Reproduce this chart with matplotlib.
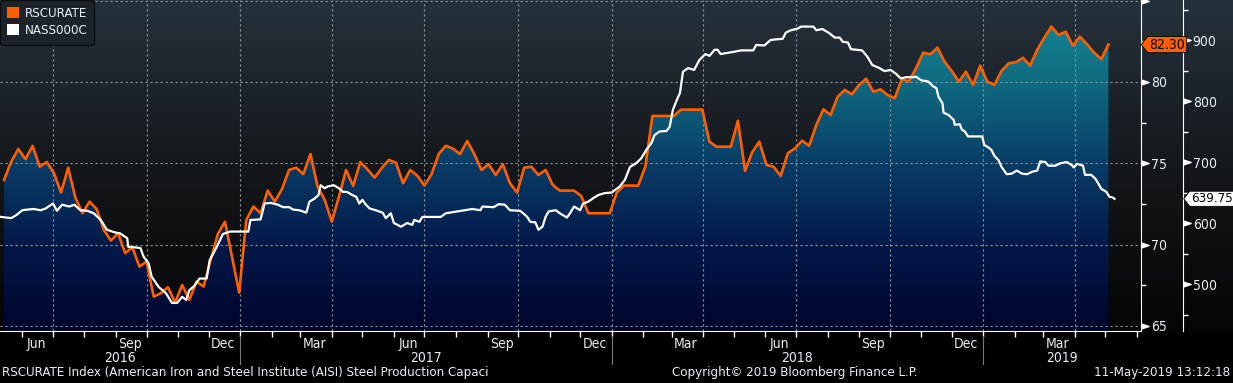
import numpy as np
import pandas as pd
import matplotlib
matplotlib.use("Agg")
import matplotlib.pyplot as plt
from matplotlib import font_manager
from matplotlib.colors import LinearSegmentedColormap
from matplotlib.patches import Patch
from matplotlib.path import Path
from matplotlib.transforms import blended_transform_factory

# RSCURATE: weekly AISI capacity utilisation (%), Christmas week 2016 missing
rscurate_dates = pd.date_range("2016-05-14", "2019-05-04", freq="W-SAT").drop(pd.Timestamp("2016-12-24"))
rscurate = [
    73.98, 75.10, 75.88, 75.25, 76.07, 74.79, 75.08, 74.39, 73.20, 74.73, 72.89, 71.93,
    72.64, 72.18, 70.90, 70.25, 70.70, 69.47, 69.84, 68.65, 68.96, 66.80, 67.01, 67.38,
    66.44, 67.52, 66.60, 67.73, 67.42, 69.06, 70.64, 71.41,
    67.05, 71.52, 72.34, 71.93, 73.32, 72.64, 73.41, 74.59, 74.73, 74.33, 75.57, 73.57,
    72.75, 71.41, 72.95, 74.59, 73.61, 75.08, 74.63, 74.12, 74.70, 75.21, 75.04, 73.77,
    74.59, 74.24, 73.63, 74.33, 75.57, 76.08, 75.90,
    75.57, 76.37, 75.57, 74.59, 74.94, 74.28, 74.94, 73.77, 73.20, 74.73, 74.79, 74.28,
    74.59, 73.67, 73.32, 73.32, 73.32, 72.99, 71.93, 71.93, 71.93, 71.93, 73.20, 73.63,
    73.63, 73.63, 74.79,
    77.91, 77.91, 77.91, 77.91, 78.30, 78.30, 78.30, 78.30, 76.33,
    76.02, 76.02, 76.02, 77.62, 74.53, 75.68, 76.33, 74.90, 74.79, 74.22, 75.62, 75.92,
    76.39, 76.08, 77.36, 78.32, 77.97, 79.10, 79.51, 79.24, 79.82, 80.20, 79.40, 79.55,
    79.20, 79.00, 80.17, 80.04,
    80.84, 81.80, 81.70, 82.11, 81.25, 80.68, 80.02, 80.63, 79.82, 81.00, 80.02, 79.82,
    80.68, 81.15, 81.21, 81.49, 81.00, 81.97, 82.72, 83.40, 82.89, 83.09, 82.23, 82.78,
    82.32, 81.80, 81.41, 82.30,
]

# NASS000C index
nass_dates = [
    # 2016
    "2016-05-11", "2016-05-21", "2016-05-26", "2016-06-01", "2016-06-06", "2016-06-12",
    "2016-06-19", "2016-06-24", "2016-07-01", "2016-07-05", "2016-07-10", "2016-07-17",
    "2016-07-22", "2016-07-28", "2016-08-04", "2016-08-10", "2016-08-17", "2016-08-23",
    "2016-08-30", "2016-09-05", "2016-09-12", "2016-09-13", "2016-09-20", "2016-09-25",
    "2016-09-28", "2016-10-03", "2016-10-06", "2016-10-13", "2016-10-20", "2016-10-26",
    "2016-10-31", "2016-11-05", "2016-11-09", "2016-11-12", "2016-11-17", "2016-11-22",
    "2016-11-29", "2016-12-02", "2016-12-09", "2016-12-15", "2016-12-22",
    # 2017
    "2017-01-02", "2017-01-09", "2017-01-11", "2017-01-21", "2017-01-25", "2017-01-31",
    "2017-02-07", "2017-02-12", "2017-02-18", "2017-02-22", "2017-02-28", "2017-03-07",
    "2017-03-10", "2017-03-15", "2017-03-19", "2017-03-21", "2017-03-25", "2017-03-28",
    "2017-04-03", "2017-04-08", "2017-04-12", "2017-04-16", "2017-04-21", "2017-04-25",
    "2017-04-28", "2017-05-01", "2017-05-04", "2017-05-08", "2017-05-14", "2017-05-21",
    "2017-05-24", "2017-05-29", "2017-06-01", "2017-06-08", "2017-06-14", "2017-06-19",
    "2017-06-21", "2017-06-26", "2017-06-29", "2017-07-17", "2017-07-22", "2017-08-02",
    "2017-08-10", "2017-08-17", "2017-08-25", "2017-08-27", "2017-09-07", "2017-09-12",
    "2017-09-18", "2017-09-23", "2017-10-03", "2017-10-06", "2017-10-10", "2017-10-13",
    "2017-10-18", "2017-10-21", "2017-10-25", "2017-10-28", "2017-10-31", "2017-11-07",
    "2017-11-11", "2017-11-18", "2017-11-21", "2017-11-25", "2017-12-01", "2017-12-04",
    "2017-12-09", "2017-12-14", "2017-12-19", "2017-12-25",
    # 2018
    "2018-01-01", "2018-01-09", "2018-01-14", "2018-01-19", "2018-01-25", "2018-01-30",
    "2018-02-04", "2018-02-09", "2018-02-12", "2018-02-17", "2018-02-24", "2018-02-27",
    "2018-03-02", "2018-03-06", "2018-03-09", "2018-03-12", "2018-03-17", "2018-03-23",
    "2018-03-28", "2018-04-03", "2018-04-07", "2018-04-12", "2018-04-15", "2018-04-18",
    "2018-04-25", "2018-05-02", "2018-05-08", "2018-05-20", "2018-05-23", "2018-05-31",
    "2018-06-06", "2018-06-11", "2018-06-18", "2018-06-21", "2018-06-26", "2018-07-03",
    "2018-07-06", "2018-07-18", "2018-07-21", "2018-07-27", "2018-08-03", "2018-08-08",
    "2018-08-13", "2018-08-16", "2018-08-21", "2018-08-24", "2018-09-04", "2018-09-09",
    "2018-09-14", "2018-09-21", "2018-09-26", "2018-10-02", "2018-10-07", "2018-10-12",
    "2018-10-17", "2018-10-24", "2018-10-27", "2018-11-01", "2018-11-08", "2018-11-12",
    "2018-11-16", "2018-11-18", "2018-11-22", "2018-11-23", "2018-11-28", "2018-12-03",
    "2018-12-04", "2018-12-09", "2018-12-11", "2018-12-14", "2018-12-17", "2018-12-31",
    # 2019
    "2019-01-02", "2019-01-06", "2019-01-09", "2019-01-12", "2019-01-16", "2019-01-19",
    "2019-01-24", "2019-01-29", "2019-02-03", "2019-02-08", "2019-02-13", "2019-02-18",
    "2019-02-23", "2019-02-26", "2019-03-03", "2019-03-06", "2019-03-13", "2019-03-18",
    "2019-03-24", "2019-03-29", "2019-03-31", "2019-04-03", "2019-04-09", "2019-04-11",
    "2019-04-17", "2019-04-21", "2019-04-24", "2019-04-27", "2019-05-02", "2019-05-05",
    "2019-05-08", "2019-05-10",
]
nass = [
    # 2016
    610, 608, 613, 621, 622, 623,
    621, 624, 632, 620, 630, 627,
    630, 621, 620, 616, 605, 589,
    585, 583, 575, 561, 560, 559,
    545, 534, 512, 495, 485, 469,
    469, 479, 474, 490, 497, 509,
    509, 539, 561, 582, 586,
    # 2017
    586, 586, 605, 606, 632, 633,
    630, 626, 626, 622, 621, 617,
    635, 640, 646, 662, 657, 660,
    662, 657, 651, 651, 646, 643,
    632, 638, 631, 624, 621, 617,
    608, 616, 600, 594, 600, 597,
    605, 602, 610, 610, 616, 619,
    621, 623, 621, 627, 626, 631,
    630, 621, 620, 616, 610, 602,
    601, 589, 594, 610, 619, 621,
    616, 609, 616, 627, 621, 632,
    635, 641, 646, 649,
    # 2018
    650, 660, 671, 692, 698, 706,
    720, 731, 744, 750, 751, 758,
    785, 802, 813, 848, 854, 851,
    867, 877, 874, 884, 884, 877,
    879, 881, 883, 883, 892, 891,
    900, 901, 902, 912, 916, 919,
    922, 922, 916, 918, 911, 904,
    904, 897, 896, 885, 883, 873,
    859, 854, 849, 851, 845, 837,
    839, 839, 840, 834, 832, 825,
    821, 807, 796, 781, 777, 769,
    761, 762, 753, 750, 742, 742,
    # 2019
    728, 724, 720, 710, 703, 692,
    680, 681, 686, 681, 680, 684,
    686, 701, 700, 694, 694, 698,
    700, 695, 691, 697, 694, 679,
    679, 673, 665, 656, 651, 643,
    642, 639.75,
]
assert len(nass_dates) == len(nass)
assert len(rscurate_dates) == len(rscurate)

series_names = ["RSCURATE", "NASS000C"]
left_ticks = [65, 70, 75, 80, 85]
left_labels = ["65", "70", "75", "80", ""]
right_ticks = [500, 600, 700, 800, 900]
years = [2016, 2017, 2018, 2019]

ORANGE = "#ff5f00"
TXT = "#e8eef2"
GRID = "#8e959c"

available = {f.name for f in font_manager.fontManager.ttflist}
if "Liberation Sans Narrow" in available:
    plt.rcParams["font.family"] = ["Liberation Sans Narrow", "DejaVu Sans"]
else:
    plt.rcParams["font.family"] = ["DejaVu Sans"]
    plt.rcParams["font.stretch"] = "condensed"
FS = 9.5

W, H = 1233, 383
fig = plt.figure(figsize=(W / 100, H / 100), dpi=100, facecolor="black")
ax_left, ax_bottom = 0.0, (H - 331) / H
ax_w, ax_h = 1141 / W, 331 / H
OUTER = 1183 / 1141  # second y axis position, in axes fraction

# background gradient behind the whole plotting band
bg = fig.add_axes([0, ax_bottom, 1, ax_h], zorder=-5)
bg_cmap = LinearSegmentedColormap.from_list("bg", ["#050505", "#0f1113", "#1a2026", "#25323c"])
bg.imshow(np.linspace(0, 1, 256).reshape(-1, 1), cmap=bg_cmap, aspect="auto",
          origin="lower", extent=[0, 1, 0, 1])
bg.set_axis_off()

ax = fig.add_axes([ax_left, ax_bottom, ax_w, ax_h])
ax.patch.set_alpha(0)
ax2 = ax.twinx()
ax.yaxis.tick_right()
ax.yaxis.set_label_position("right")

xmin, xmax = pd.Timestamp("2016-05-10"), pd.Timestamp("2019-06-05")
ymin, ymax = 64.69, 85.04
ax.set_xlim(xmin, xmax)
ax.set_ylim(ymin, ymax)
ax2.set_ylim(423, 965.6)

# gradient area under RSCURATE
fill_cmap = LinearSegmentedColormap.from_list(
    "fill", ["#00052c", "#031849", "#083c66", "#0f6a80", "#168e9b"])
poly = ax.fill_between(rscurate_dates, rscurate, ymin, facecolor="none", edgecolor="none")
x0n, x1n = ax.get_xlim()
im = ax.imshow(np.linspace(0, 1, 256).reshape(-1, 1), cmap=fill_cmap, aspect="auto",
               origin="lower", extent=[x0n, x1n, ymin, ymax], zorder=1)
im.set_clip_path(poly.get_paths()[0], transform=ax.transData)
ax.set_xlim(xmin, xmax)
ax.set_ylim(ymin, ymax)

# dotted grid
for v in left_ticks:
    ax.axhline(v, color=GRID, lw=0.8, ls=(0, (2, 2.5)), zorder=2)
for d in pd.date_range("2016-07-01", "2019-04-01", freq="QS"):
    ax.axvline(d, color=GRID, lw=0.8, ls=(0, (2, 2.5)), zorder=2)

ax.plot(rscurate_dates, rscurate, color=ORANGE, lw=1.9, zorder=3)
ax2.plot(pd.to_datetime(nass_dates), nass, color="white", lw=1.6, zorder=4)

# spines
for a in (ax, ax2):
    for s in ("left", "top"):
        a.spines[s].set_visible(False)
ax2.spines["bottom"].set_visible(False)
ax.spines["bottom"].set_color("white")
ax.spines["right"].set_color("white")
ax2.spines["right"].set_color("white")
ax2.spines["right"].set_position(("axes", OUTER))

# y ticks: triangle markers + labels
ax.set_yticks(left_ticks)
ax.set_yticklabels(left_labels)
ax.set_yticks([67.5, 72.5, 77.5, 82.5], minor=True)
ax2.set_yticks(right_ticks)
ax2.set_yticks([450, 550, 650, 750, 850, 950], minor=True)
for a in (ax, ax2):
    a.tick_params(axis="y", which="major", length=0, pad=7, labelsize=FS + 0.5, labelcolor=TXT)
    a.tick_params(axis="y", which="minor", length=3.5, width=1, color="white", direction="out")
tri = [(0, -0.33), (1, 0), (0, 0.33)]
ax.plot([1] * len(left_ticks), left_ticks, ls="none", marker=tri, ms=11, color="white",
        transform=blended_transform_factory(ax.transAxes, ax.transData), clip_on=False, zorder=5)
ax2.plot([OUTER] * len(right_ticks), right_ticks, ls="none", marker=tri, ms=11, color="white",
         transform=blended_transform_factory(ax2.transAxes, ax2.transData), clip_on=False, zorder=5)

# x axis: month ticks, quarter month labels, years
month_starts = pd.date_range("2016-06-01", "2019-06-01", freq="MS")
ax.set_xticks(month_starts)
ax.set_xticklabels([])
mid = [d + pd.Timedelta(days=14) for d in month_starts if d.month in (3, 6, 9, 12)]
mid = [d for d in mid if d < xmax]
ax.set_xticks(mid, minor=True)
ax.set_xticklabels([d.strftime("%b") for d in mid], minor=True)
ax.tick_params(axis="x", which="major", length=4, width=1, color="white", direction="out")
ax.tick_params(axis="x", which="minor", length=0, pad=4, labelsize=FS + 0.5, labelcolor=TXT)

bx = blended_transform_factory(ax.transData, ax.transAxes)
edges = [xmin] + [pd.Timestamp(f"{y}-01-01") for y in years[1:]] + [xmax]
for i, y in enumerate(years):
    centre = edges[i] + (edges[i + 1] - edges[i]) / 2
    ax.text(centre, -0.082, str(y), transform=bx, ha="center", va="center",
            fontsize=FS + 0.5, color=TXT)
for d in edges[1:-1]:
    ax.plot([d, d], [-0.015, -0.1], transform=bx, color="#7a7a7a", lw=0.8, clip_on=False)


# price tags on the axes
def tag_box(x0, y0, width, height, mutation_size):
    px, py = 0.12 * mutation_size, 0.08 * mutation_size
    x0, y0 = x0 - px, y0 - py
    width, height = width + 2 * px, height + 2 * py
    tip = 0.4 * height
    verts = [(x0 - tip, y0 + height / 2), (x0, y0), (x0 + width, y0),
             (x0 + width, y0 + height), (x0, y0 + height), (x0 - tip, y0 + height / 2)]
    return Path(verts, closed=True)


# both tags go on ax2 so they sit above its spine
ax2.annotate(f"{rscurate[-1]:.2f}", xy=(1, rscurate[-1]),
             xycoords=blended_transform_factory(ax.transAxes, ax.transData),
             xytext=(6, 0), textcoords="offset points", ha="left", va="center",
             fontsize=FS + 0.5, color="black", annotation_clip=False, zorder=6,
             bbox=dict(boxstyle=tag_box, facecolor=ORANGE, edgecolor="black", lw=0.6))
ax2.annotate(f"{nass[-1]:.2f}", xy=(OUTER, nass[-1]), xycoords=("axes fraction", "data"),
             xytext=(6, 0), textcoords="offset points", ha="left", va="center",
             fontsize=FS, color="black", annotation_clip=False, zorder=6,
             bbox=dict(boxstyle=tag_box, facecolor="white", edgecolor="black", lw=0.6))

# legend
handles = [Patch(facecolor=ORANGE, edgecolor="none"), Patch(facecolor="white", edgecolor="none")]
leg = ax.legend(handles, series_names, loc="upper left", bbox_to_anchor=(0, 1), borderaxespad=0.0,
                fontsize=FS, handlelength=0.9, handleheight=0.9, handletextpad=0.4,
                labelspacing=0.3, borderpad=0.55, facecolor="#1c2329", edgecolor="#0b0d0f",
                framealpha=1, fancybox=True)
for t in leg.get_texts():
    t.set_color(TXT)
leg.set_zorder(10)

# footer
fig.text(2 / W, 0.027, "RSCURATE Index (American Iron and Steel Institute (AISI) Steel Production Capaci",
         ha="left", va="center", fontsize=FS, color=TXT)
fig.text(795 / W, 0.027, "Copyright\u00a9 2019 Bloomberg Finance L.P.", ha="center", va="center",
         fontsize=FS, color=TXT)
fig.text(1230 / W, 0.027, "11-May-2019 13:12:18", ha="right", va="center", fontsize=FS, color=TXT)

fig.savefig("out.png", dpi=100, facecolor="black")
